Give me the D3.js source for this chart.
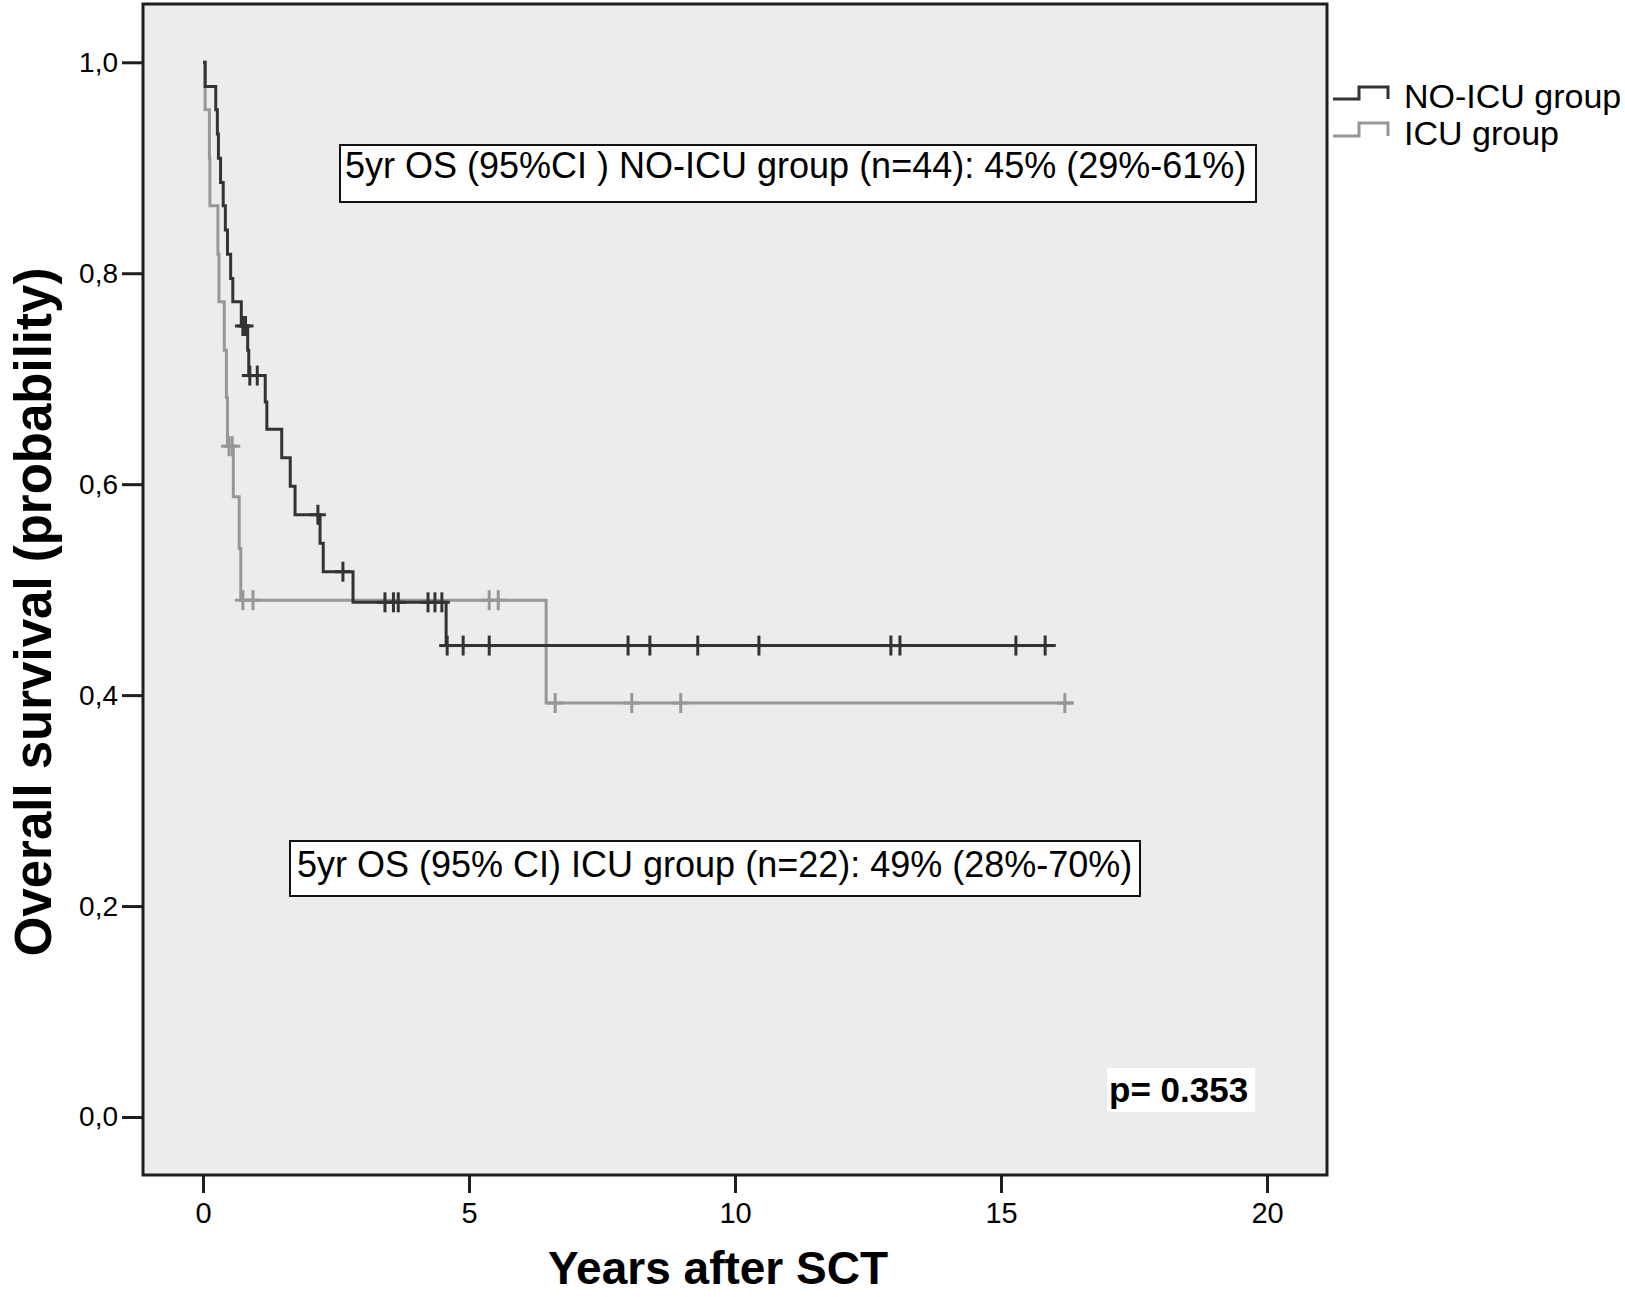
<!DOCTYPE html>
<html><head><meta charset="utf-8">
<script src="https://cdn.jsdelivr.net/npm/d3@7"></script>
<style>
body{margin:0;background:#fff}
svg{display:block}
text{font-family:Arial,"Liberation Sans",sans-serif}
</style>
</head><body>
<svg id="c" width="1625" height="1297"></svg>
<script>
// ---------- data ----------
const xTicks = [0, 5, 10, 15, 20];
const yTicks = [0, 0.2, 0.4, 0.6, 0.8, 1.0];
const yTickLabels = ["0,0", "0,2", "0,4", "0,6", "0,8", "1,0"];
const seriesNames = ["NO-ICU group", "ICU group"];

// NO-ICU group: event times (years) and survival after each event
const noIcuTimes = [0.04, 0.24, 0.27, 0.29, 0.33, 0.38, 0.42, 0.46, 0.52, 0.56, 0.72, 0.84, 0.86, 1.17, 1.20, 1.48, 1.64, 1.73, 2.20, 2.26, 2.82, 4.57];
const noIcuSurv  = [0.977, 0.955, 0.932, 0.909, 0.886, 0.864, 0.841, 0.818, 0.795, 0.773, 0.750, 0.727, 0.703, 0.678, 0.652, 0.625, 0.598, 0.571, 0.544, 0.517, 0.488, 0.447];
const noIcuCensor = [0.75, 0.80, 0.88, 1.02, 2.16, 2.63, 3.42, 3.58, 3.67, 4.23, 4.36, 4.49, 4.59, 4.89, 5.38, 7.99, 8.40, 9.30, 10.45, 12.93, 13.10, 15.28, 15.83];
const noIcuEnd = 16.03;

// ICU group
const icuTimes = [0.04, 0.12, 0.13, 0.28, 0.30, 0.40, 0.44, 0.46, 0.57, 0.68, 0.71, 6.45];
const icuSurv  = [0.955, 0.909, 0.864, 0.818, 0.773, 0.727, 0.682, 0.636, 0.588, 0.539, 0.490, 0.3925];
const icuCensor = [0.49, 0.55, 0.75, 0.94, 5.38, 5.55, 6.62, 8.06, 8.98, 16.20];
const icuEnd = 16.37;

const annotNoIcu = "5yr OS (95%CI ) NO-ICU group (n=44): 45% (29%-61%)";
const annotIcu = "5yr OS (95% CI) ICU group (n=22): 49% (28%-70%)";
const pText = "p= 0.353";
const xTitle = "Years after SCT";
const yTitle = "Overall survival (probability)";

// ---------- drawing ----------
const svg = d3.select("#c");
const frame = {l: 143, t: 4, r: 1327, b: 1175};
const x = d3.scaleLinear().domain([0, 20]).range([203, 1267]);
const y = d3.scaleLinear().domain([0, 1]).range([1117, 62.3]);

const darkCol = "#333333", lightCol = "#979797", axisCol = "#1e1e1e";

svg.append("rect")
  .attr("x", frame.l).attr("y", frame.t)
  .attr("width", frame.r - frame.l).attr("height", frame.b - frame.t)
  .attr("fill", "#ececec").attr("stroke", axisCol).attr("stroke-width", 3);

// axes
const yAxis = d3.axisLeft(y).tickValues(yTicks)
  .tickFormat((d, i) => yTickLabels[i]).tickSize(21).tickPadding(4);
svg.append("g").attr("transform", `translate(${frame.l},0)`).call(yAxis)
  .call(g => g.select(".domain").remove())
  .call(g => g.selectAll("line").attr("stroke", axisCol).attr("stroke-width", 3))
  .call(g => g.selectAll("text").attr("font-size", 28).attr("fill", "#000")
     .attr("font-family", "Arial, 'Liberation Sans', sans-serif"));

const xAxis = d3.axisBottom(x).tickValues(xTicks).tickFormat(d3.format("d"))
  .tickSize(18).tickPadding(9);
svg.append("g").attr("transform", `translate(0,${frame.b})`).call(xAxis)
  .call(g => g.select(".domain").remove())
  .call(g => g.selectAll("line").attr("stroke", axisCol).attr("stroke-width", 3))
  .call(g => g.selectAll("text").attr("font-size", 29).attr("fill", "#000")
     .attr("font-family", "Arial, 'Liberation Sans', sans-serif"));

// titles
svg.append("text").attr("transform", "translate(51,612) rotate(-90)")
  .attr("text-anchor", "middle").attr("font-size", 51).attr("font-weight", "bold")
  .text(yTitle);
svg.append("text").attr("x", 718).attr("y", 1284)
  .attr("text-anchor", "middle").attr("font-size", 46).attr("font-weight", "bold")
  .text(xTitle);

// survival curves
function steps(times, surv, end) {
  const pts = [[0, 1]];
  times.forEach((t, i) => pts.push([t, surv[i]]));
  pts.push([end, surv[surv.length - 1]]);
  return pts;
}
function survAt(times, surv, t) {
  let s = 1;
  times.forEach((tt, i) => { if (tt <= t) s = surv[i]; });
  return s;
}
const line = d3.line().x(d => x(d[0])).y(d => y(d[1])).curve(d3.curveStepAfter);

const series = [
  {times: icuTimes, surv: icuSurv, cens: icuCensor, end: icuEnd, col: lightCol},
  {times: noIcuTimes, surv: noIcuSurv, cens: noIcuCensor, end: noIcuEnd, col: darkCol}
];
series.forEach(sr => {
  const g = svg.append("g");
  g.append("path").attr("d", line(steps(sr.times, sr.surv, sr.end)))
    .attr("fill", "none").attr("stroke", sr.col).attr("stroke-width", 3);
  sr.cens.forEach(t => {
    const cx = x(t), cy = y(survAt(sr.times, sr.surv, t));
    g.append("line").attr("x1", cx).attr("x2", cx).attr("y1", cy - 10).attr("y2", cy + 10)
      .attr("stroke", sr.col).attr("stroke-width", 3);
    g.append("line").attr("x1", cx - 8).attr("x2", cx + 8).attr("y1", cy).attr("y2", cy)
      .attr("stroke", sr.col).attr("stroke-width", 3);
  });
});

// annotation boxes
svg.append("rect").attr("x", 340).attr("y", 145).attr("width", 916).attr("height", 57)
  .attr("fill", "#fff").attr("stroke", "#111").attr("stroke-width", 2);
svg.append("text").attr("x", 345).attr("y", 178).attr("font-size", 36).text(annotNoIcu);

svg.append("rect").attr("x", 290).attr("y", 841).attr("width", 850).attr("height", 55)
  .attr("fill", "#fff").attr("stroke", "#111").attr("stroke-width", 2);
svg.append("text").attr("x", 297).attr("y", 877).attr("font-size", 36).text(annotIcu);

// p-value
svg.append("rect").attr("x", 1107).attr("y", 1068).attr("width", 148).attr("height", 44).attr("fill", "#fff");
svg.append("text").attr("x", 1109).attr("y", 1102).attr("font-size", 35).attr("font-weight", "bold").text(pText);

// legend
const legY = [{low: 99, high: 87, base: 108}, {low: 136, high: 123, base: 145}];
const legCols = [darkCol, lightCol];
seriesNames.forEach((name, i) => {
  const L = legY[i];
  svg.append("path")
    .attr("d", `M1333,${L.low} H1359 V${L.high} H1388 V${L.low}`)
    .attr("fill", "none").attr("stroke", legCols[i]).attr("stroke-width", 3);
  svg.append("text").attr("x", 1404).attr("y", L.base).attr("font-size", 34).text(name);
});
</script>
</body></html>
